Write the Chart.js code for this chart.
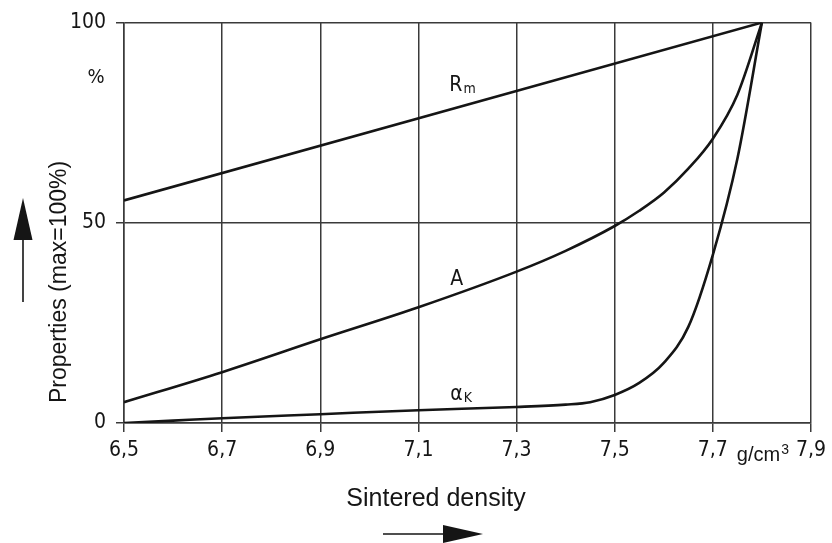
<!DOCTYPE html>
<html>
<head>
<meta charset="utf-8">
<script src="https://cdn.jsdelivr.net/npm/chart.js@4"></script>
<style>
  html, body { margin: 0; padding: 0; background: #fff; }
  #wrap { width: 832px; height: 543px; }
</style>
</head>
<body>
<div id="wrap"><canvas id="myChart"></canvas></div>
<script>
// sintered density (g/cm3) and properties in % of max
const rmDensity = [6.5, 7.8];
const rmValue = [55.6, 100];

const aDensity = [6.5, 6.7, 6.9, 7.1, 7.3, 7.4, 7.5, 7.55, 7.6, 7.65, 7.7, 7.75, 7.8];
const aValue = [5.2, 12.7, 20.9, 28.9, 37.8, 43, 49.2, 53, 57.5, 63.5, 71, 82, 100];

const akDensity = [6.5, 6.6, 6.7, 6.9, 7.1, 7.3, 7.4, 7.45, 7.5, 7.55, 7.6, 7.65, 7.7, 7.75, 7.8];
const akValue = [0, 0.6, 1.2, 2.2, 3.2, 4.0, 4.6, 5.2, 7.0, 10, 15, 24, 42, 66, 100];

const xTicks = [6.5, 6.7, 6.9, 7.1, 7.3, 7.5, 7.7, 7.9];
const yTicks = [0, 50, 100];

// where the curve names sit (data coordinates)
const curveLabels = [
    { name: "R", sub: "m", x: 7.163, y: 83 },
    { name: "A", sub: "", x: 7.165, y: 34.4 },
    { name: "α", sub: "K", x: 7.165, y: 5.7 },
];

const toPoints = (xs, ys) => xs.map((x, i) => ({ x: x, y: ys[i] }));

const tickFont = "'DejaVu Sans Condensed', 'Liberation Sans Narrow', sans-serif";
const textFont = "'Liberation Sans', Arial, sans-serif";
const ink = "#151515";
const gridInk = "#3a3a3a";

const curve = (label, xs, ys) => ({
    label: label,
    data: toPoints(xs, ys),
    showLine: true,
    borderColor: ink,
    borderWidth: 2.6,
    pointRadius: 0,
    cubicInterpolationMode: "monotone",
    fill: false,
});

function arrow(ctx, x1, y1, x2, y2, headLen, headW) {
    const ang = Math.atan2(y2 - y1, x2 - x1);
    const bx = x2 - Math.cos(ang) * headLen;
    const by = y2 - Math.sin(ang) * headLen;
    ctx.beginPath();
    ctx.moveTo(x1, y1);
    ctx.lineTo(bx, by);
    ctx.stroke();
    ctx.beginPath();
    ctx.moveTo(x2, y2);
    ctx.lineTo(bx + Math.sin(ang) * headW / 2, by - Math.cos(ang) * headW / 2);
    ctx.lineTo(bx - Math.sin(ang) * headW / 2, by + Math.cos(ang) * headW / 2);
    ctx.closePath();
    ctx.fill();
}

const decorations = {
    id: "decorations",
    afterDraw(chart) {
        const ctx = chart.ctx;
        const xs = chart.scales.x;
        const ys = chart.scales.y;
        const area = chart.chartArea;
        ctx.save();
        ctx.fillStyle = ink;
        ctx.strokeStyle = ink;

        // curve names
        ctx.textBaseline = "alphabetic";
        ctx.textAlign = "left";
        curveLabels.forEach(l => {
            const px = xs.getPixelForValue(l.x);
            const py = ys.getPixelForValue(l.y);
            ctx.font = "21px " + tickFont;
            ctx.fillText(l.name, px, py);
            const w = ctx.measureText(l.name).width;
            if (l.sub) {
                ctx.font = "14px " + tickFont;
                ctx.fillText(l.sub, px + w + 1, py + 2);
            }
        });

        // unit marks
        ctx.font = "20px " + tickFont;
        ctx.textAlign = "center";
        ctx.fillText("%", area.left - 28, area.top + 60);
        ctx.font = "20px " + textFont;
        ctx.textAlign = "left";
        const ux = xs.getPixelForValue(7.7) + 24;
        const uy = area.bottom + 38;
        ctx.fillText("g/cm", ux, uy);
        const uw = ctx.measureText("g/cm").width;
        ctx.font = "14px " + textFont;
        ctx.fillText("3", ux + uw + 1, uy - 7);

        // axis titles
        ctx.font = "25px " + textFont;
        ctx.textAlign = "center";
        ctx.fillText("Sintered density", 436, 506);
        ctx.save();
        ctx.translate(66, 282);
        ctx.rotate(-Math.PI / 2);
        ctx.font = "23px " + textFont;
        ctx.fillText("Properties (max=100%)", 0, 0);
        ctx.restore();

        // direction arrows
        ctx.lineWidth = 1.6;
        arrow(ctx, 23, 302, 23, 198, 42, 19);
        arrow(ctx, 383, 534, 483, 534, 40, 18);
        ctx.restore();
    },
};

const myChart = new Chart(document.getElementById("myChart"), {
    type: "scatter",
    data: {
        datasets: [
            curve("Rm", rmDensity, rmValue),
            curve("A", aDensity, aValue),
            curve("αK", akDensity, akValue),
        ],
    },
    options: {
        responsive: true,
        maintainAspectRatio: false,
        animation: false,
        layout: {
            padding: { left: 0, top: 22, right: 15, bottom: 0 },
        },
        plugins: {
            legend: { display: false },
            tooltip: { enabled: false },
        },
        scales: {
            x: {
                type: "linear",
                min: 6.5,
                max: 7.9,
                afterBuildTicks: (scale) => {
                    scale.ticks = xTicks.map(v => ({ value: v }));
                },
                afterFit: (scale) => {
                    scale.height = 120;
                },
                grid: {
                    color: gridInk,
                    lineWidth: 1.5,
                    drawTicks: true,
                    tickLength: 9,
                },
                border: { color: gridInk, width: 1.5 },
                ticks: {
                    padding: 6,
                    color: ink,
                    font: { family: tickFont, size: 21 },
                    maxRotation: 0,
                    callback: (v) => Number(v).toFixed(1).replace(".", ","),
                },
            },
            y: {
                min: 0,
                max: 100,
                afterBuildTicks: (scale) => {
                    scale.ticks = yTicks.map(v => ({ value: v }));
                },
                afterFit: (scale) => {
                    scale.width = 124;
                },
                grid: {
                    color: gridInk,
                    lineWidth: 1.5,
                    drawTicks: true,
                    tickLength: 8,
                },
                border: { color: gridInk, width: 1.5 },
                ticks: {
                    padding: 10,
                    color: ink,
                    font: { family: tickFont, size: 21 },
                },
            },
        },
    },
    plugins: [decorations],
});
</script>
</body>
</html>
